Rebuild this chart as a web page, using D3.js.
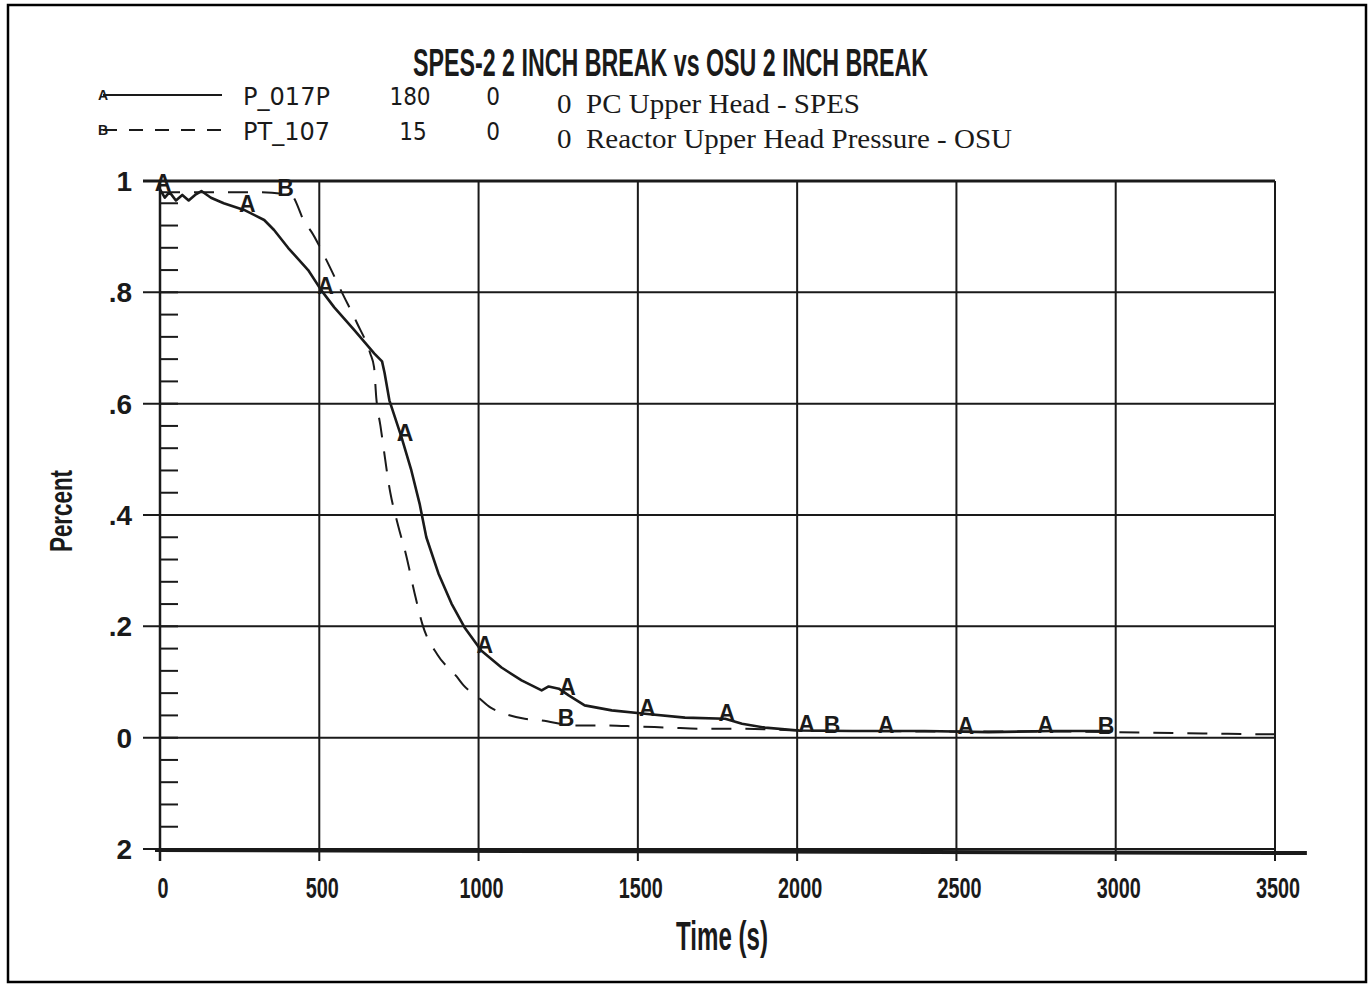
<!DOCTYPE html>
<html><head><meta charset="utf-8">
<script src="https://cdn.jsdelivr.net/npm/d3@7"></script>
<style>body{margin:0;background:#fff}svg{display:block}</style>
</head><body>
<svg id="c" width="1371" height="984"></svg>
<script>
// ---- data ----
const titleText = "SPES-2 2 INCH BREAK vs OSU 2 INCH BREAK";
const xTicks = [0, 500, 1000, 1500, 2000, 2500, 3000, 3500];
const yTicks = [-0.2, 0, 0.2, 0.4, 0.6, 0.8, 1];
const yTickLabels = ["2", "0", ".2", ".4", ".6", ".8", "1"];
const legendNames = ["P_017P", "PT_107"];
const legendCol2 = ["180", "15"];
const legendCol3 = ["0", "0"];
const legendDesc = ["0  PC Upper Head - SPES", "0  Reactor Upper Head Pressure - OSU"];

const timeA = [0, 15, 30, 50, 70, 90, 110, 130, 160, 200, 264, 327, 358, 402, 465, 506, 547, 610, 673, 697, 705, 720, 758, 789, 815, 836, 874, 915, 956, 1009, 1072, 1135, 1198, 1220, 1252, 1283, 1333, 1418, 1522, 1648, 1774, 1827, 1899, 2006, 2173, 2400, 2600, 2800, 2990];
const valA  = [0.985, 0.97, 0.98, 0.965, 0.975, 0.965, 0.975, 0.982, 0.97, 0.96, 0.948, 0.93, 0.912, 0.88, 0.84, 0.804, 0.773, 0.732, 0.69, 0.676, 0.655, 0.606, 0.54, 0.48, 0.42, 0.36, 0.295, 0.241, 0.198, 0.156, 0.126, 0.103, 0.085, 0.092, 0.088, 0.076, 0.058, 0.049, 0.043, 0.036, 0.034, 0.025, 0.018, 0.013, 0.012, 0.012, 0.01, 0.012, 0.012];

const timeB = [0, 100, 200, 300, 410, 455, 474, 518, 571, 619, 660, 672, 679, 692, 723, 748, 773, 799, 824, 871, 931, 953, 1000, 1038, 1082, 1145, 1198, 1300, 1400, 1500, 1600, 1700, 1800, 1900, 2000, 2200, 2500, 2800, 3000, 3200, 3500];
const valB  = [0.98, 0.98, 0.98, 0.98, 0.975, 0.925, 0.91, 0.863, 0.80, 0.744, 0.69, 0.665, 0.61, 0.56, 0.44, 0.38, 0.327, 0.26, 0.203, 0.149, 0.11, 0.094, 0.072, 0.054, 0.043, 0.034, 0.031, 0.022, 0.022, 0.02, 0.018, 0.016, 0.016, 0.015, 0.013, 0.012, 0.011, 0.011, 0.01, 0.008, 0.006];

const markA = [0, 265, 510, 760, 1010, 1270, 1520, 1770, 2020, 2270, 2520, 2770];
const markB = [385, 1265, 2100, 2960];

// ---- drawing ----
const svg = d3.select("#c");
const ink = "#1a1a1a";
const narrow = "'Liberation Sans Narrow','Liberation Sans',Arial,sans-serif";
const x = d3.scaleLinear().domain([0, 3500]).range([160, 1275]);
const y = d3.scaleLinear().domain([-0.2, 1]).range([849, 181]);

// outer frame
svg.append("rect").attr("x", 8).attr("y", 5).attr("width", 1358).attr("height", 977)
  .attr("fill", "none").attr("stroke", "#000").attr("stroke-width", 2.5);

// title
svg.append("text").attr("x", 413).attr("y", 76).attr("font-family", narrow).attr("font-weight", "bold")
  .attr("font-size", 38).attr("textLength", 515).attr("lengthAdjust", "spacingAndGlyphs")
  .attr("fill", ink).text(titleText);

// legend
const lg = svg.append("g");
[0, 1].forEach(i => {
  const ly = 95 + i * 35;
  lg.append("line").attr("x1", 103).attr("x2", 222).attr("y1", ly).attr("y2", ly)
    .attr("stroke", ink).attr("stroke-width", 2).attr("stroke-dasharray", i ? "14,12" : null);
  lg.append("text").attr("x", 103).attr("y", ly + 5).attr("text-anchor", "middle")
    .attr("font-family", narrow).attr("font-weight", "bold").attr("font-size", 14).attr("fill", ink)
    .text(i ? "B" : "A");
  lg.append("text").attr("x", 243).attr("y", ly + 10).attr("font-family", "'DejaVu Sans Condensed','DejaVu Sans',sans-serif")
    .attr("font-size", 24).attr("textLength", 87).attr("lengthAdjust", "spacingAndGlyphs").attr("fill", ink).text(legendNames[i]);
  lg.append("text").attr("x", i ? 413 : 410).attr("y", ly + 10).attr("text-anchor", "middle")
    .attr("font-family", "'DejaVu Sans Condensed','DejaVu Sans',sans-serif").attr("font-size", 24).attr("fill", ink).text(legendCol2[i]);
  lg.append("text").attr("x", 493).attr("y", ly + 10).attr("text-anchor", "middle")
    .attr("font-family", "'DejaVu Sans Condensed','DejaVu Sans',sans-serif").attr("font-size", 24).attr("fill", ink).text(legendCol3[i]);
  lg.append("text").attr("x", 557).attr("y", ly + 18).attr("font-family", "'Liberation Serif','Times New Roman',serif")
    .attr("font-size", 28).attr("fill", ink).attr("xml:space", "preserve")
    .attr("textLength", i ? 455 : 303).attr("lengthAdjust", "spacingAndGlyphs").text(legendDesc[i]);
});

// grid
const grid = svg.append("g").attr("stroke", ink);
xTicks.forEach(t => {
  grid.append("line").attr("x1", x(t)).attr("x2", x(t)).attr("y1", y(1)).attr("y2", y(-0.2) + 12)
    .attr("stroke-width", t === 0 ? 2.5 : 2);
});
yTicks.forEach(v => {
  grid.append("line").attr("x1", x(0) - 17).attr("x2", x(3500)).attr("y1", y(v)).attr("y2", y(v))
    .attr("stroke-width", v === 1 ? 3 : 2);
});
// minor ticks
d3.range(-0.2, 1.0001, 0.04).forEach(v => {
  grid.append("line").attr("x1", x(0)).attr("x2", x(0) + 18).attr("y1", y(v)).attr("y2", y(v)).attr("stroke-width", 2);
});
// heavy bottom baseline
svg.append("line").attr("x1", x(0) - 5).attr("x2", x(3600)).attr("y1", y(-0.2) + 1).attr("y2", y(-0.2) + 4)
  .attr("stroke", ink).attr("stroke-width", 4);

// tick labels
svg.append("g").selectAll("text").data(xTicks).join("text")
  .attr("x", d => x(d) + 3).attr("y", 898).attr("text-anchor", "middle")
  .attr("font-family", narrow).attr("font-weight", "bold").attr("font-size", 30).attr("fill", ink)
  .attr("transform", d => `translate(${x(d) + 3},0) scale(0.66,1) translate(${-(x(d) + 3)},0)`)
  .text(d => d);
svg.append("g").selectAll("text").data(yTicks).join("text")
  .attr("x", 132).attr("y", d => y(d) + 10).attr("text-anchor", "end")
  .attr("font-family", narrow).attr("font-weight", "bold").attr("font-size", 28).attr("fill", ink)
  .text((d, i) => yTickLabels[i]);

// axis titles
svg.append("text").attr("transform", "translate(72,511) rotate(-90)").attr("text-anchor", "middle")
  .attr("font-family", narrow).attr("font-weight", "bold").attr("font-size", 32)
  .attr("textLength", 82).attr("lengthAdjust", "spacingAndGlyphs").attr("fill", ink).text("Percent");
svg.append("text").attr("x", 722).attr("y", 950).attr("text-anchor", "middle")
  .attr("font-family", narrow).attr("font-weight", "bold").attr("font-size", 40)
  .attr("textLength", 92).attr("lengthAdjust", "spacingAndGlyphs").attr("fill", ink).text("Time  (s)");

// series
const dataA = timeA.map((t, i) => [t, valA[i]]);
const dataB = timeB.map((t, i) => [t, valB[i]]);
const lineA = d3.line().x(d => x(d[0])).y(d => y(d[1]));
const lineB = d3.line().x(d => x(d[0])).y(d => y(d[1])).curve(d3.curveMonotoneX);
svg.append("path").datum(dataA).attr("d", lineA).attr("fill", "none").attr("stroke", ink).attr("stroke-width", 2.6)
  .attr("stroke-linejoin", "round");
svg.append("path").datum(dataB).attr("d", lineB).attr("fill", "none").attr("stroke", ink).attr("stroke-width", 2)
  .attr("stroke-dasharray", "20,14");

// markers (letters on curves)
function interp(ts, vs, t) {
  return d3.scaleLinear().domain(ts).range(vs).clamp(true)(t);
}
svg.append("g").selectAll("text").data(markA).join("text")
  .attr("x", d => x(d) + 3).attr("y", d => y(interp(timeA, valA, d)) + 2).attr("text-anchor", "middle")
  .attr("font-family", narrow).attr("font-weight", "bold").attr("font-size", 23).attr("fill", ink).text("A");
svg.append("g").selectAll("text").data(markB).join("text")
  .attr("x", d => x(d) + 3).attr("y", d => y(interp(timeB, valB, d)) + 2).attr("text-anchor", "middle")
  .attr("font-family", narrow).attr("font-weight", "bold").attr("font-size", 23).attr("fill", ink).text("B");
</script>
</body></html>
